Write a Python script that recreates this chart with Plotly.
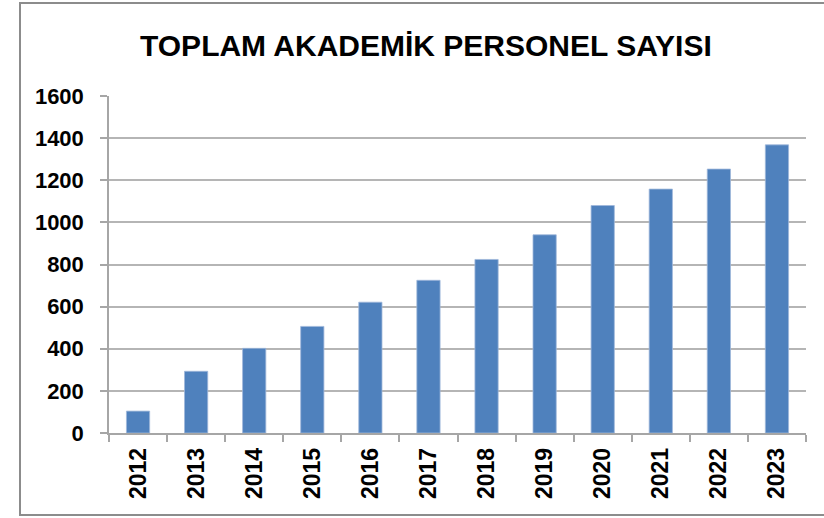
import plotly.graph_objects as go

years = ["2012", "2013", "2014", "2015", "2016", "2017", "2018", "2019", "2020", "2021", "2022", "2023"]
values = [104, 293, 402, 506, 621, 725, 824, 941, 1080, 1158, 1253, 1368]
y_ticks = [0, 200, 400, 600, 800, 1000, 1200, 1400, 1600]
title_text = "TOPLAM AKADEMİK PERSONEL SAYISI"

W, H = 824, 518
L, R, T, B = 109, 18, 96, 85
pw, ph = W - L - R, H - T - B

fig = go.Figure(go.Bar(
    x=years, y=values,
    marker=dict(color="#4F81BD", line=dict(color="#9FB8DA", width=0.8)),
    width=0.4,
))

fig.update_layout(
    width=W, height=H,
    margin=dict(l=L, r=R, t=T, b=B),
    paper_bgcolor="white", plot_bgcolor="white",
    showlegend=False,
    font=dict(family="Liberation Sans, Arial, sans-serif", color="black"),
    annotations=[dict(
        text="<b>" + title_text + "</b>",
        xref="paper", yref="paper",
        x=(426 - L) / pw, y=(H - B - 46) / ph,
        xanchor="center", yanchor="middle",
        showarrow=False,
        font=dict(family="Liberation Sans, Arial, sans-serif", size=30, color="black"),
    )],
    shapes=[dict(
        type="rect", xref="paper", yref="paper",
        x0=(20 - L) / pw, x1=(830 - L) / pw,
        y0=(H - B - 515) / ph, y1=(H - B - 3) / ph,
        line=dict(color="#8c8c8c", width=2), fillcolor="rgba(0,0,0,0)", layer="below",
    )],
)

fig.update_xaxes(
    type="category",
    showgrid=False,
    showline=True, linecolor="#a6a6a6", linewidth=1.5,
    ticks="outside", tickson="boundaries", ticklen=7, tickcolor="#a6a6a6", tickwidth=1.5,
    tickangle=-90,
    ticklabelstandoff=4,
    tickfont=dict(family="Liberation Sans, Arial, sans-serif", size=23, color="black", weight="bold"),
)
fig.update_yaxes(
    range=[0, 1600],
    tickvals=y_ticks,
    ticktext=[str(v) for v in y_ticks],
    showgrid=True, gridcolor="#b5b5b5", gridwidth=1.5,
    showline=True, linecolor="#a6a6a6", linewidth=1.5,
    ticks="outside", ticklen=7, tickcolor="#a6a6a6", tickwidth=1.5,
    zeroline=False,
    ticklabelstandoff=12,
    tickfont=dict(family="Liberation Sans, Arial, sans-serif", size=22, color="black", weight="bold"),
)

fig.write_html(
    "out.html",
    config={"displayModeBar": False},
    post_script="document.body.style.margin='0px';document.body.style.overflow='hidden';",
)
